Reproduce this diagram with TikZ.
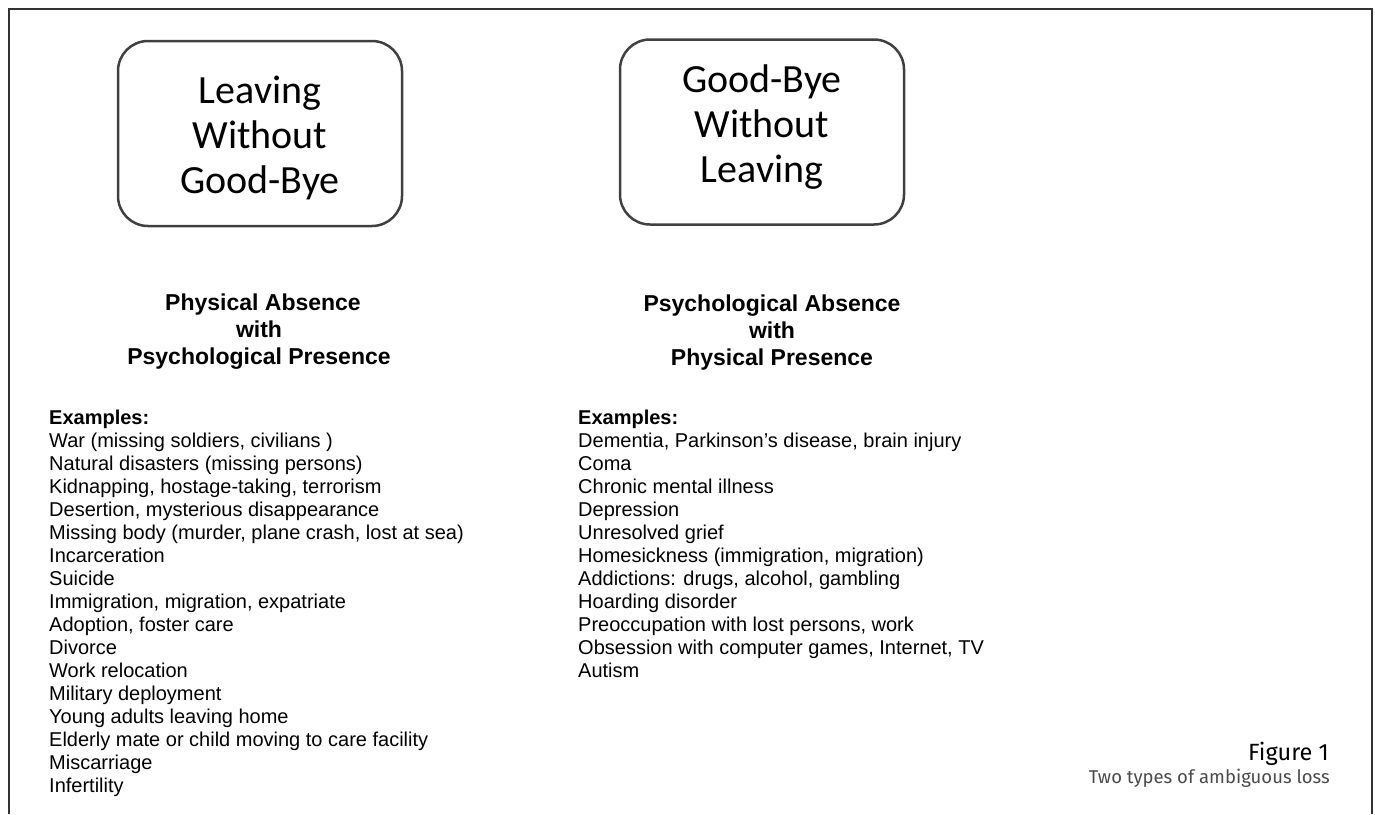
\documentclass[tikz,border=0pt]{standalone}
\usepackage{fontspec}
\setmainfont{Liberation Sans}
\newfontfamily\boxfont{Carlito}
\newfontfamily\capfont{Fira Sans}
\usepackage{tikz}
\definecolor{framegray}{HTML}{333333}
\definecolor{boxgray}{HTML}{404040}
\definecolor{capgray}{HTML}{4A4A4A}

\begin{document}
\begin{tikzpicture}[x=1pt,y=-1pt,
  lossbox/.style={draw=boxgray, line width=2.5pt, rounded corners=30pt,
    minimum width=284pt, minimum height=185pt},
  boxtext/.style={align=center, inner sep=0pt, font=\boxfont\fontsize{40}{45}\selectfont},
  headtext/.style={align=center, inner sep=0pt, font=\fontsize{23}{27}\selectfont\bfseries},
  itemtext/.style={anchor=base west, inner sep=0pt, font=\fontsize{20}{23}\selectfont},
  captext/.style={anchor=base east, inner sep=0pt}]
\useasboundingbox (0,0) rectangle (1375,814);
\draw [framegray, line width=2pt] (9,814) -- (9,9) -- (1372,9) -- (1372,814);

\node [lossbox] (leave) at (260,133.5) {};
\node [boxtext] (leavetxt) at (260,137.5) {Leaving\\Without\\Good-Bye};
\node [lossbox] (bye) at (762,132) {};
\node [boxtext] (byetxt) at (762,127) {Good-Bye\\Without\\Leaving};

\node [headtext] (physhead) at (259,332) {\hspace*{8pt}Physical Absence\\with\hspace*{15pt}\\Psychological Presence};
\node [headtext] (psychead) at (772,333) {Psychological Absence\\with\\Physical Presence};

\node [itemtext, font=\fontsize{20}{23}\selectfont\bfseries] (physex) at (49,424) {Examples:};
\foreach \t [count=\i from 1] in {{War (missing soldiers, civilians )},
  {Natural disasters (missing persons)}, {Kidnapping, hostage-taking, terrorism},
  {Desertion, mysterious disappearance}, {Missing body (murder, plane crash, lost at sea)},
  Incarceration, Suicide, {Immigration, migration, expatriate}, {Adoption, foster care},
  Divorce, Work relocation, Military deployment, Young adults leaving home,
  Elderly mate or child moving to care facility, Miscarriage, Infertility}
  \node [itemtext] (phys\i) at (49,424+23*\i) {\t};

\node [itemtext, font=\fontsize{20}{23}\selectfont\bfseries] (psycex) at (578,424) {Examples:};
\foreach \t [count=\i from 1] in {{Dementia, Parkinson’s disease, brain injury},
  Coma, Chronic mental illness, Depression, Unresolved grief,
  {Homesickness (immigration, migration)}, {Addictions: drugs, alcohol, gambling},
  Hoarding disorder, {Preoccupation with lost persons, work},
  {Obsession with computer games, Internet, TV}, Autism}
  \node [itemtext] (psyc\i) at (578,424+23*\i) {\t};

\node [captext, font=\capfont\fontsize{23.5}{26}\selectfont] (fig) at (1329,760) {Figure 1};
\node [captext, text=capgray, font=\capfont\fontsize{18.5}{22}\selectfont] (figcap) at (1330,783) {Two types of ambiguous loss};
\end{tikzpicture}
\end{document}
